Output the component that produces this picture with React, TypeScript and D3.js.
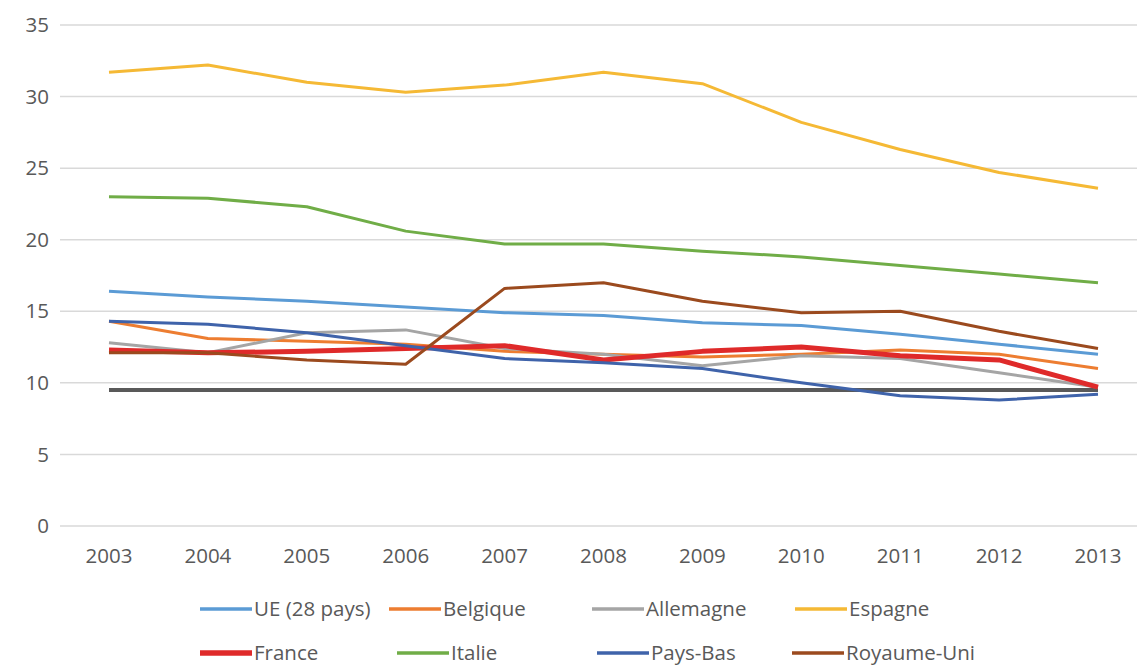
import React from "react";
import * as d3 from "d3";

const years = [2003, 2004, 2005, 2006, 2007, 2008, 2009, 2010, 2011, 2012, 2013];
const yTicks = [0, 5, 10, 15, 20, 25, 30, 35];

const ue = [16.4, 16.0, 15.7, 15.3, 14.9, 14.7, 14.2, 14.0, 13.4, 12.7, 12.0];
const belgique = [14.3, 13.1, 12.9, 12.7, 12.2, 12.0, 11.8, 12.0, 12.3, 12.0, 11.0];
const allemagne = [12.8, 12.1, 13.5, 13.7, 12.4, 12.0, 11.2, 11.9, 11.7, 10.7, 9.7];
const espagne = [31.7, 32.2, 31.0, 30.3, 30.8, 31.7, 30.9, 28.2, 26.3, 24.7, 23.6];
const france = [12.3, 12.1, 12.2, 12.4, 12.6, 11.6, 12.2, 12.5, 11.9, 11.6, 9.7];
const italie = [23.0, 22.9, 22.3, 20.6, 19.7, 19.7, 19.2, 18.8, 18.2, 17.6, 17.0];
const paysBas = [14.3, 14.1, 13.5, 12.6, 11.7, 11.4, 11.0, 10.0, 9.1, 8.8, 9.2];
const royaumeUni = [12.1, 12.1, 11.6, 11.3, 16.6, 17.0, 15.7, 14.9, 15.0, 13.6, 12.4];
const objectif = [9.5, 9.5, 9.5, 9.5, 9.5, 9.5, 9.5, 9.5, 9.5, 9.5, 9.5];

const seriesNames = ["UE (28 pays)", "Belgique", "Allemagne", "Espagne", "France", "Italie", "Pays-Bas", "Royaume-Uni"];
const seriesData = [ue, belgique, allemagne, espagne, france, italie, paysBas, royaumeUni];
const seriesColors = ["#5B9BD5", "#ED7D31", "#A5A5A5", "#F5B935", "#DF2A2A", "#70AD47", "#3F63AA", "#9B4A1E"];
const seriesWidths = [3, 3, 3, 3, 5, 3, 3, 3];

const W = 1137;
const H = 666;
const FONT = "'Open Sans', sans-serif";
const TEXT = "#595959";
const FS = 20.5;

export default function App() {
  const x = d3.scaleLinear().domain([2003, 2013]).range([109, 1098]);
  const y = d3.scaleLinear().domain([0, 35]).range([526, 25]);
  const line = d3
    .line<number>()
    .x((_, i) => x(years[i]))
    .y((d) => y(d));

  const legendPos = [
    { lx: 200, row: 0 },
    { lx: 389, row: 0 },
    { lx: 592, row: 0 },
    { lx: 795, row: 0 },
    { lx: 200, row: 1 },
    { lx: 397, row: 1 },
    { lx: 597, row: 1 },
    { lx: 792, row: 1 },
  ];
  const rowY = [609, 653];

  return (
    <svg
      width={W}
      height={H}
      style={{ position: "absolute", left: 0, top: 0, background: "#fff" }}
      fontFamily={FONT}
    >
      {yTicks.map((t) => (
        <g key={t}>
          <line x1={60} x2={W} y1={y(t)} y2={y(t)} stroke="#D9D9D9" strokeWidth={1.5} />
          <text x={49} y={y(t)} dy="0.35em" textAnchor="end" fontSize={FS} fill={TEXT}>
            {t}
          </text>
        </g>
      ))}
      {years.map((yr) => (
        <text key={yr} x={x(yr)} y={556} dy="0.35em" textAnchor="middle" fontSize={FS} fill={TEXT}>
          {yr}
        </text>
      ))}
      <path d={line(objectif) || ""} fill="none" stroke="#595959" strokeWidth={4} />
      {seriesData.map((s, i) => (
        <path
          key={seriesNames[i]}
          d={line(s) || ""}
          fill="none"
          stroke={seriesColors[i]}
          strokeWidth={seriesWidths[i]}
          strokeLinejoin="round"
        />
      ))}
      {seriesNames.map((n, i) => {
        const p = legendPos[i];
        const ly = rowY[p.row];
        return (
          <g key={n}>
            <line x1={p.lx} x2={p.lx + 52} y1={ly} y2={ly} stroke={seriesColors[i]} strokeWidth={seriesWidths[i] + 0.5} />
            <text x={p.lx + 54} y={ly} dy="0.35em" fontSize={FS} fill={TEXT}>
              {n}
            </text>
          </g>
        );
      })}
    </svg>
  );
}
